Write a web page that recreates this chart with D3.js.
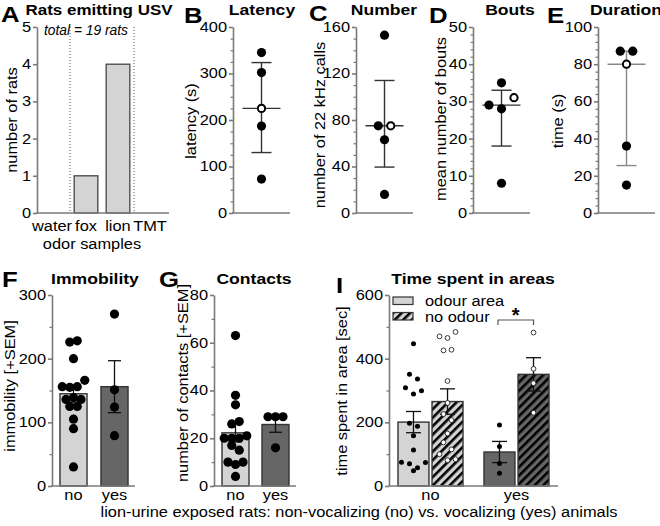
<!DOCTYPE html>
<html><head><meta charset="utf-8">
<script src="https://cdn.jsdelivr.net/npm/d3@7"></script>
<style>body{margin:0;background:#fff} svg text{font-family:Arial,"Liberation Sans",sans-serif}</style>
</head><body><svg id="c" width="660" height="526"></svg>
<script>
// ---------- DATA ----------
const odorSamples = ["water", "fox", "lion", "TMT"];
const ratsEmitting = [0, 1, 4, 0];
const yTicksA = [0, 1, 2, 3, 4, 5];

const latencyLion = [345, 302, 187, 73];
const latencyFox = [225];
const numberLion = [153, 75, 63, 16];
const numberFox = [75];
const boutsLion = [35, 29, 28, 8];
const boutsFox = [31];
const durationLion = [87, 87, 36, 15];
const durationFox = [80];

const groups = ["no", "yes"];
const immobilityNo = [226, 228, 200, 156, 155, 156, 166, 136, 139, 136, 125, 125, 105, 90, 30];
const immobilityYes = [270, 151, 124, 79];
const contactsNo = [63, 38, 34, 26, 27, 20, 20, 20, 21, 17, 15, 10, 9, 10, 4];
const contactsYes = [29, 29, 29, 16];
const areas = ["odour area", "no odour"];
const odourAreaNo = [447, 351, 336, 309, 289, 299, 197, 188, 158, 113, 75, 70, 57, 74, 48];
const noOdourNo = [470, 465, 484, 426, 428, 330, 261, 226, 207, 165, 137, 115, 100, 81, 84];
const odourAreaYes = [192, 124, 71, 40];
const noOdourYes = [482, 368, 323, 230];

// ---------- STYLE ----------
const FONT = "Arial, 'Liberation Sans', sans-serif";
const AX = "#7a7a7a";
const LIGHT = "#d4d4d4", DARK = "#666666", OUT = "#333";
const svg = d3.select("#c");

const defs = svg.append("defs");
function hatch(id, bg) {
  const p = defs.append("pattern").attr("id", id).attr("patternUnits", "userSpaceOnUse")
    .attr("width", 6).attr("height", 6).attr("patternTransform", "rotate(45)");
  p.append("rect").attr("width", 6).attr("height", 6).attr("fill", bg);
  p.append("rect").attr("width", 2.6).attr("height", 6).attr("fill", "#000");
}
hatch("hLight", LIGHT); hatch("hDark", DARK);

function txt(x, y, s, size, opts = {}) {
  const t = svg.append("text").attr("x", x).attr("y", y).text(s)
    .attr("font-family", FONT).attr("font-size", size).attr("fill", "#000")
    .attr("text-anchor", opts.anchor || "middle");
  if (opts.bold) t.attr("font-weight", "bold");
  if (opts.italic) t.attr("font-style", "italic");
  if (opts.rot) t.attr("transform", `rotate(-90,${x},${y})`);
  if (opts.len) t.attr("data-len", opts.len);
  return t;
}

function yAxis(scale, x, majors, minors) {
  const g = svg.append("g").attr("transform", `translate(${x},0)`);
  if (minors) {
    const m = g.append("g").call(d3.axisLeft(scale).tickValues(minors).tickSize(2.5).tickFormat(""));
    m.select(".domain").remove();
    m.selectAll("line").attr("stroke", AX).attr("stroke-width", 1.2);
  }
  const a = g.append("g").call(d3.axisLeft(scale).tickValues(majors).tickSize(4).tickSizeOuter(0).tickPadding(2).tickFormat(d3.format("d")));
  a.attr("font-family", FONT).attr("font-size", 14);
  a.select(".domain").attr("stroke", AX).attr("stroke-width", 1.6);
  a.selectAll(".tick line").attr("stroke", AX).attr("stroke-width", 1.6);
  a.selectAll(".tick text").attr("fill", "#000");
}
function xLine(x0, x1, y) {
  svg.append("line").attr("x1", x0 - 0.8).attr("x2", x1).attr("y1", y).attr("y2", y)
    .attr("stroke", AX).attr("stroke-width", 1.6);
}
function range(a, b, s) { return d3.range(a, b + 1e-9, s); }

// cluster points into rows and spread horizontally
function swarm(values, scale, thr, spacing) {
  const idx = values.map((v, i) => i).sort((a, b) => values[b] - values[a] || a - b);
  const off = new Array(values.length).fill(0);
  let cl = [];
  const flush = () => {
    cl.sort((a, b) => a - b);
    cl.forEach((k, j) => off[k] = (j - (cl.length - 1) / 2) * spacing);
  };
  idx.forEach(i => {
    if (cl.length && Math.abs(scale(values[i]) - scale(values[cl[0]])) >= thr) { flush(); cl = []; }
    cl.push(i);
  });
  if (cl.length) flush();
  return off;
}

// ---------- PANEL A ----------
{
  const y = d3.scaleLinear().domain([0, 5]).range([213, 27]);
  const x = d3.scaleBand().domain(odorSamples).range([39, 165]).paddingInner(0.26).paddingOuter(0.1);
  svg.append("g").selectAll("rect").data(odorSamples).join("rect")
    .attr("x", d => x(d)).attr("width", x.bandwidth())
    .attr("y", (d, i) => y(ratsEmitting[i])).attr("height", (d, i) => y(0) - y(ratsEmitting[i]))
    .attr("fill", LIGHT).attr("stroke", "#444").attr("stroke-width", 1.3)
    .attr("display", (d, i) => ratsEmitting[i] > 0 ? null : "none");
  const step = x.step();
  [1, 3].forEach(k => {
    const xx = x(odorSamples[k]) + x.bandwidth() / 2 - step / 2;
    svg.append("line").attr("x1", xx).attr("x2", xx).attr("y1", y(5)).attr("y2", y(0))
      .attr("stroke", "#555").attr("stroke-width", 1).attr("stroke-dasharray", "1,2");
  });
  yAxis(y, 37, yTicksA, null);
  xLine(37, 169, y(0));
  odorSamples.forEach((d, i) => txt(x(d) + x.bandwidth() / 2 - (i === 0 ? 2 : 0), 231, d, 14));
  txt(92, 249, "odor samples", 14);
  txt(17, 120, "number of rats", 14, { rot: true });
  txt(86, 35, "total = 19 rats", 14, { italic: true, len: 84 });
  txt(99, 15, "Rats emitting USV", 14.5, { bold: true });
  txt(1, 22, "A", 22, { bold: true, anchor: "start" });
}

// ---------- PANELS B–E ----------
function scatterPanel(c) {
  const y = d3.scaleLinear().domain([0, c.max]).range([213, 27]);
  const all = c.lion.concat(c.fox);
  const sorted = all.slice().sort((a, b) => a - b);
  const n = sorted.length;
  const med = d3.median(sorted);
  const q1 = d3.median(sorted.slice(0, Math.floor(n / 2)));
  const q3 = d3.median(sorted.slice(Math.ceil(n / 2)));
  const cx = c.ax + 28.5;
  const g = svg.append("g");
  g.append("line").attr("x1", cx).attr("x2", cx).attr("y1", y(q1)).attr("y2", y(q3)).attr("stroke", c.ec).attr("stroke-width", 1.4);
  [q1, q3].forEach(v => g.append("line").attr("x1", cx - 10).attr("x2", cx + 10).attr("y1", y(v)).attr("y2", y(v)).attr("stroke", c.ec).attr("stroke-width", 1.4));
  g.append("line").attr("x1", cx - 19).attr("x2", cx + 19).attr("y1", y(med)).attr("y2", y(med)).attr("stroke", c.ec).attr("stroke-width", 1.4);
  const off = swarm(all, y, 12, 12.5);
  all.forEach((v, i) => {
    const open = i >= c.lion.length;
    g.append("circle").attr("cx", cx + off[i]).attr("cy", y(v))
      .attr("r", open ? 3.6 : 4.6)
      .attr("fill", open ? "#fff" : "#000").attr("stroke", open ? "#000" : "none").attr("stroke-width", 2);
  });
  yAxis(y, c.ax, range(0, c.max, c.major), range(0, c.max, c.minor).filter(v => v % c.major !== 0));
  xLine(c.ax, c.ax + 57, y(0));
  txt(c.lx, c.ly, c.label, 14, { rot: true });
  txt(c.tx, 15, c.title, 15, { bold: true });
  txt(c.px, c.py || 23, c.letter, 22, { bold: true, anchor: "start" });
}
scatterPanel({ ax: 233, max: 400, major: 100, minor: 25, lion: latencyLion, fox: latencyFox, ec: "#333",
  label: "latency (s)", lx: 196, ly: 121, title: "Latency", tx: 262, letter: "B", px: 184 });
scatterPanel({ ax: 356, max: 160, major: 40, minor: 10, lion: numberLion, fox: numberFox, ec: "#333",
  label: "number of 22 kHz calls", lx: 325, ly: 125, title: "Number", tx: 384, letter: "C", px: 309, py: 21 });
scatterPanel({ ax: 473, max: 50, major: 10, minor: 2, lion: boutsLion, fox: boutsFox, ec: "#333",
  label: "mean number of bouts", lx: 446, ly: 119, title: "Bouts", tx: 510, letter: "D", px: 429 });
scatterPanel({ ax: 598, max: 100, major: 20, minor: 4, lion: durationLion, fox: durationFox, ec: "#888",
  label: "time (s)", lx: 563, ly: 121, title: "Duration", tx: 626, letter: "E", px: 547 });

// ---------- BAR PANELS F, G ----------
const Y0 = 486, YT = 295;
function errBar(g, cx, vals, y, w) {
  const m = d3.mean(vals), s = d3.deviation(vals) / Math.sqrt(vals.length);
  g.append("line").attr("x1", cx).attr("x2", cx).attr("y1", y(m - s)).attr("y2", y(m + s)).attr("stroke", "#111").attr("stroke-width", 1.3);
  [m - s, m + s].forEach(v => g.append("line").attr("x1", cx - w / 2).attr("x2", cx + w / 2).attr("y1", y(v)).attr("y2", y(v)).attr("stroke", "#111").attr("stroke-width", 1.3));
}
function barPanel(c) {
  const y = d3.scaleLinear().domain([0, c.max]).range([Y0, YT]);
  const x = d3.scaleBand().domain(groups).range(c.xr).paddingInner(c.pi).paddingOuter(c.po);
  const g = svg.append("g");
  const data = [c.no, c.yes];
  groups.forEach((gr, i) => {
    const m = d3.mean(data[i]);
    g.append("rect").attr("x", x(gr)).attr("width", x.bandwidth()).attr("y", y(m)).attr("height", y(0) - y(m))
      .attr("fill", i ? DARK : LIGHT).attr("stroke", OUT).attr("stroke-width", 1.4);
  });
  groups.forEach((gr, i) => errBar(g, x(gr) + x.bandwidth() / 2, data[i], y, 13));
  groups.forEach((gr, i) => {
    const off = swarm(data[i], y, 8, 7.5);
    data[i].forEach((v, k) => g.append("circle").attr("cx", x(gr) + x.bandwidth() / 2 + off[k]).attr("cy", y(v)).attr("r", 4.6).attr("fill", "#000"));
  });
  yAxis(y, c.ax, range(0, c.max, c.major), range(0, c.max, c.major / 2).filter(v => v % c.major !== 0));
  xLine(c.ax, c.xr[1], y(0));
  groups.forEach(gr => txt(x(gr) + x.bandwidth() / 2, 500, gr, 14));
  txt(c.lx, c.ly, c.label, 14, { rot: true });
  txt(c.tx, 284, c.title, 15, { bold: true });
  txt(c.px, 287, c.letter, 22, { bold: true, anchor: "start" });
}
barPanel({ ax: 52, max: 300, major: 100, xr: [53, 135], pi: 0.34, po: 0.17, no: immobilityNo, yes: immobilityYes,
  label: "immobility [+SEM]", lx: 15, ly: 386, title: "Immobility", tx: 95, letter: "F", px: 2 });
barPanel({ ax: 214, max: 80, major: 20, xr: [215, 296], pi: 0.325, po: 0.175, no: contactsNo, yes: contactsYes,
  label: "number of contacts [+SEM]", lx: 188, ly: 383, title: "Contacts", tx: 254, letter: "G", px: 159 });

// ---------- PANEL I ----------
{
  const y = d3.scaleLinear().domain([0, 600]).range([Y0, YT]);
  const x0 = d3.scaleBand().domain(groups).range([389, 558]).paddingInner(0.244).paddingOuter(0.1045);
  const x1 = d3.scaleBand().domain(areas).range([0, x0.bandwidth()]).paddingInner(0.09);
  const g = svg.append("g");
  const sets = [
    { gr: "no", ar: "odour area", v: odourAreaNo, fill: LIGHT, open: false },
    { gr: "no", ar: "no odour", v: noOdourNo, fill: "url(#hLight)", open: true },
    { gr: "yes", ar: "odour area", v: odourAreaYes, fill: DARK, open: false },
    { gr: "yes", ar: "no odour", v: noOdourYes, fill: "url(#hDark)", open: true },
  ];
  sets.forEach(s => {
    const m = d3.mean(s.v);
    s.cx = x0(s.gr) + x1(s.ar) + x1.bandwidth() / 2;
    g.append("rect").attr("x", x0(s.gr) + x1(s.ar)).attr("width", x1.bandwidth()).attr("y", y(m)).attr("height", y(0) - y(m))
      .attr("fill", s.fill).attr("stroke", OUT).attr("stroke-width", 1.4);
  });
  sets.forEach(s => errBar(g, s.cx, s.v, y, 15));
  sets.forEach(s => {
    const off = swarm(s.v, y, 7.2, 8);
    s.v.forEach((v, k) => g.append("circle").attr("cx", s.cx + off[k]).attr("cy", y(v))
      .attr("r", s.open ? 2.4 : 2.5).attr("fill", s.open ? "#fff" : "#000")
      .attr("stroke", s.open ? "#222" : "none").attr("stroke-width", 0.9));
  });
  yAxis(y, 389, [0, 200, 400, 600], [100, 300, 500]);
  xLine(389, 558, y(0));
  groups.forEach(gr => txt(x0(gr) + x0.bandwidth() / 2, 500, gr, 14));
  txt(347, 391, "time spent in area [sec]", 14, { rot: true });
  txt(473, 284, "Time spent in areas", 15, { bold: true });
  txt(336, 293, "I", 22, { bold: true, anchor: "start" });
  // legend
  [["odour area", LIGHT, 297], ["no odour", "url(#hLight)", 312.5]].forEach(([t, f, yy]) => {
    svg.append("rect").attr("x", 393).attr("y", yy).attr("width", 20).attr("height", 7.5)
      .attr("fill", f).attr("stroke", OUT).attr("stroke-width", 1.2);
    txt(425, yy + 9, t, 14, { anchor: "start" });
  });
  // significance bracket
  const bx0 = x0("yes") + x1("odour area") + x1.bandwidth() / 2 - 1.5;
  const bx1 = x0("yes") + x1("no odour") + x1.bandwidth() / 2;
  svg.append("path").attr("d", `M${bx0},325V320H${bx1}V325`).attr("fill", "none").attr("stroke", "#555").attr("stroke-width", 1.2);
  txt((bx0 + bx1) / 2, 322, "*", 20, { bold: true }).attr("class", "nostretch");
}

const foot = txt(359, 517, "lion-urine exposed rats: non-vocalizing (no) vs. vocalizing (yes) animals", 14);

// Width correction: the reference typeface runs wider than the locally matched one.
const measured = foot.node().getComputedTextLength();
const k = measured > 0 ? 517 / measured : 1;
svg.selectAll("text").each(function () {
  if (this.getAttribute("class") === "nostretch") return;
  const fixed = this.getAttribute("data-len");
  const L = this.getComputedTextLength();
  if (fixed) d3.select(this).attr("textLength", +fixed).attr("lengthAdjust", "spacingAndGlyphs");
  else if (L > 0 && Math.abs(k - 1) > 0.02) d3.select(this).attr("textLength", L * k).attr("lengthAdjust", "spacingAndGlyphs");
});
</script>
</body></html>
